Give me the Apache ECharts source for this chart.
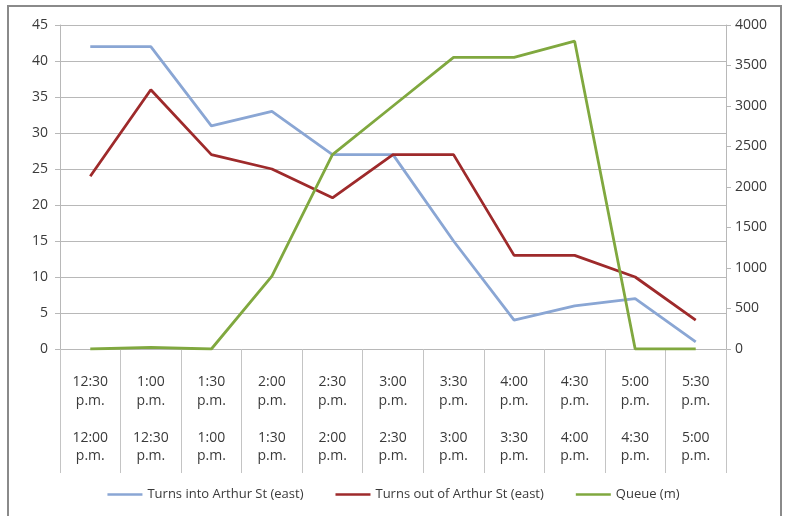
<!DOCTYPE html>
<html>
<head>
<meta charset="utf-8">
<script src="https://cdn.jsdelivr.net/npm/echarts@6/dist/echarts.min.js"></script>
<style>
  html, body { margin: 0; padding: 0; background: #fff; }
  #chart { width: 787px; height: 516px; }
</style>
</head>
<body>
<div id="chart"></div>
<script>
// Half-hour periods: upper line is the end of the period, lower line its start
const periodEnd = ['12:30', '1:00', '1:30', '2:00', '2:30', '3:00', '3:30', '4:00', '4:30', '5:00', '5:30'];
const periodStart = ['12:00', '12:30', '1:00', '1:30', '2:00', '2:30', '3:00', '3:30', '4:00', '4:30', '5:00'];

const turnsInto = [42, 42, 31, 33, 27, 27, 15, 4, 6, 7, 1];
const turnsOutOf = [24, 36, 27, 25, 21, 27, 27, 13, 13, 10, 4];
const queue = [0, 20, 0, 900, 2400, 3000, 3600, 3600, 3800, 0, 0];

const categories = periodEnd.map((t, i) => t + '\np.m.\n\n' + periodStart[i] + '\np.m.');

const FONT = '"Open Sans", "Liberation Sans", sans-serif';
const TEXT = '#3a3a3a';
const GRID = '#b8b8b8';

const chart = echarts.init(document.getElementById('chart'), null, { renderer: 'canvas' });

chart.setOption({
  backgroundColor: '#ffffff',
  animation: false,
  textStyle: { fontFamily: FONT },
  graphic: [{
    type: 'rect',
    shape: { x: 8, y: 6, width: 773, height: 530 },
    style: { fill: 'none', stroke: '#8a8a8a', lineWidth: 2 },
    z: -1
  }],
  grid: { left: 60, right: 61, top: 25, bottom: 167 },
  legend: {
    bottom: 10,
    left: 'center',
    icon: 'rect',
    itemWidth: 35,
    itemHeight: 2.5,
    itemGap: 32,
    textStyle: { fontFamily: FONT, fontSize: 13, color: TEXT },
    data: ['Turns into Arthur St (east)', 'Turns out of Arthur St (east)', 'Queue (m)']
  },
  xAxis: {
    type: 'category',
    data: categories,
    boundaryGap: true,
    axisLine: { show: true, lineStyle: { color: GRID, width: 1 } },
    axisTick: { show: true, interval: 0, length: 124, lineStyle: { color: '#c4c4c4', width: 1 } },
    axisLabel: {
      interval: 0,
      margin: 24,
      fontFamily: FONT,
      fontSize: 14,
      lineHeight: 18.5,
      color: TEXT,
      align: 'center',
      verticalAlign: 'top'
    },
    splitLine: { show: false }
  },
  yAxis: [
    {
      type: 'value',
      min: 0,
      max: 45,
      interval: 5,
      position: 'left',
      axisLine: { show: true, lineStyle: { color: GRID } },
      axisTick: { show: true, length: 5, lineStyle: { color: GRID } },
      axisLabel: { fontFamily: FONT, fontSize: 14, color: TEXT, margin: 12 },
      splitLine: { show: true, lineStyle: { color: GRID, width: 1 } }
    },
    {
      type: 'value',
      min: 0,
      max: 4000,
      interval: 500,
      position: 'right',
      axisLine: { show: true, lineStyle: { color: GRID } },
      axisTick: { show: true, length: 5, lineStyle: { color: GRID } },
      axisLabel: { fontFamily: FONT, fontSize: 14, color: TEXT, margin: 9, formatter: v => String(v) },
      splitLine: { show: false }
    }
  ],
  series: [
    {
      name: 'Turns into Arthur St (east)',
      type: 'line',
      yAxisIndex: 0,
      data: turnsInto,
      symbol: 'none',
      lineStyle: { color: '#8aa6d4', width: 2.8 },
      itemStyle: { color: '#8aa6d4' }
    },
    {
      name: 'Turns out of Arthur St (east)',
      type: 'line',
      yAxisIndex: 0,
      data: turnsOutOf,
      symbol: 'none',
      lineStyle: { color: '#9e2a2b', width: 2.8 },
      itemStyle: { color: '#9e2a2b' }
    },
    {
      name: 'Queue (m)',
      type: 'line',
      yAxisIndex: 1,
      data: queue,
      symbol: 'none',
      lineStyle: { color: '#80a83f', width: 2.8 },
      itemStyle: { color: '#80a83f' }
    }
  ]
});
</script>
</body>
</html>
